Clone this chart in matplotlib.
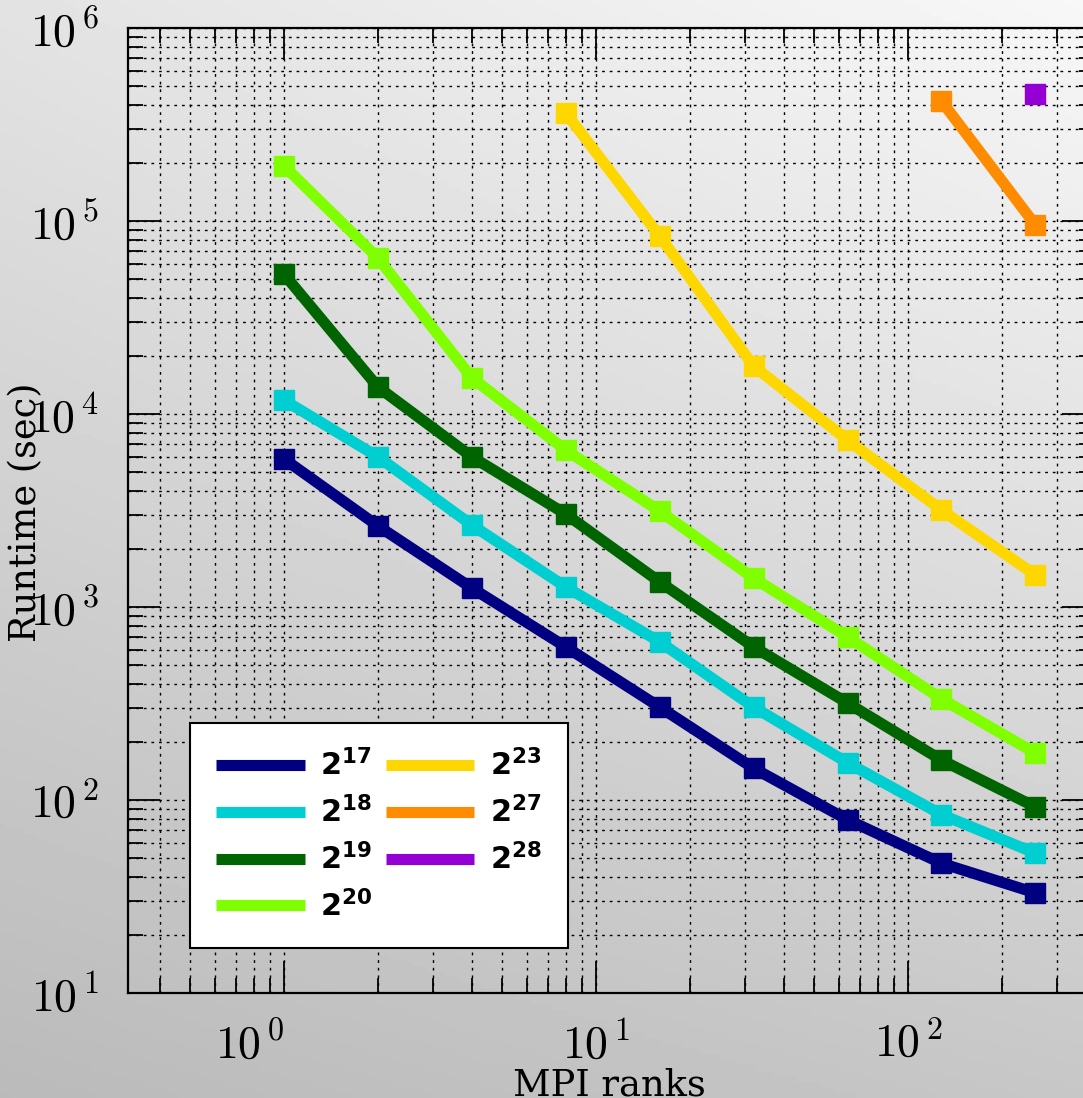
import numpy as np
import matplotlib
matplotlib.use("Agg")
import matplotlib.pyplot as plt
from matplotlib.ticker import FuncFormatter, LogLocator, NullFormatter

plt.rcParams['mathtext.fontset'] = 'custom'
plt.rcParams['mathtext.rm'] = 'cmr10'
plt.rcParams['mathtext.it'] = 'cmmi10'
plt.rcParams['mathtext.bf'] = 'DejaVu Sans:bold'

# MPI ranks and runtimes (sec)
ranks = [1, 2, 4, 8, 16, 32, 64, 128, 256]
t_2_17 = [5850, 2630, 1254, 621, 303, 146, 79, 47, 33]
t_2_18 = [11800, 6000, 2660, 1270, 660, 303, 156, 84, 53]
t_2_19 = [53000, 13800, 6000, 3030, 1350, 621, 318, 161, 92]
t_2_20 = [193000, 64300, 15400, 6500, 3140, 1410, 700, 334, 175]
ranks_2_23 = [8, 16, 32, 64, 128, 256]
t_2_23 = [363000, 83600, 17700, 7330, 3180, 1465]
ranks_2_27 = [128, 256]
t_2_27 = [418000, 95300]
ranks_2_28 = [256]
t_2_28 = [455000]

series = [
    (ranks, t_2_17, '#000080', r'$\mathbf{2^{17}}$'),
    (ranks, t_2_18, '#00CED1', r'$\mathbf{2^{18}}$'),
    (ranks, t_2_19, '#006400', r'$\mathbf{2^{19}}$'),
    (ranks, t_2_20, '#7FFF00', r'$\mathbf{2^{20}}$'),
    (ranks_2_23, t_2_23, '#FFD700', r'$\mathbf{2^{23}}$'),
    (ranks_2_27, t_2_27, '#FF8C00', r'$\mathbf{2^{27}}$'),
    (ranks_2_28, t_2_28, '#9400D3', r'$\mathbf{2^{28}}$'),
]

W, H = 1083, 1098
fig = plt.figure(figsize=(W / 100, H / 100), dpi=100)

# grey gradient background
bg = fig.add_axes([0, 0, 1, 1], zorder=-10)
bg.axis('off')
yy, xx = np.mgrid[0:1:200j, 0:1:200j]
tl, tr, bl, br = 0.89, 0.97, 0.73, 0.78
shade = tl * (1 - xx) * (1 - yy) + tr * xx * (1 - yy) + bl * (1 - xx) * yy + br * xx * yy
bg.imshow(shade, cmap='gray', vmin=0, vmax=1, aspect='auto', extent=[0, 1, 0, 1])

ax = fig.add_axes([128 / W, 105 / H, 966 / W, 965 / H])
ax.set_facecolor('none')
ax.set_xscale('log')
ax.set_yscale('log')
ax.set_xlim(10 ** -0.5, 10 ** 2.596)
ax.set_ylim(10, 1e6)

for x, y, c, lbl in series:
    ax.plot(x, y, '-', lw=8, color=c, label=lbl, solid_capstyle='butt', zorder=3)
    ax.plot(x, y, 's', ms=14, color=c, mec=c, zorder=4)

fmt = FuncFormatter(lambda v, p: f'$10^{{\\,{int(round(np.log10(v)))}}}$')
for axis in (ax.xaxis, ax.yaxis):
    axis.set_major_locator(LogLocator(base=10, numticks=20))
    axis.set_minor_locator(LogLocator(base=10, subs=np.arange(2, 10), numticks=20))
    axis.set_major_formatter(fmt)
    axis.set_minor_formatter(NullFormatter())

ax.tick_params(which='both', direction='in', top=True, right=True, width=1.3, colors='black')
ax.tick_params(which='major', length=23, labelsize=33, pad=21)
ax.tick_params(which='minor', length=11)
ax.grid(True, which='both', color='black', lw=1.0, linestyle=(0, (2, 3.5)), zorder=1)
for s in ax.spines.values():
    s.set_linewidth(1.6)

fig.canvas.draw()
xlabels = ax.get_xticklabels()
for lab, v in zip(xlabels, ax.get_xticks()):
    if np.isclose(v, 1.0):
        lab.set_horizontalalignment('right')

fig.text(26 / W, 1 - 512 / H, 'Runtime (sec)', rotation=90, ha='center', va='center',
         family='DejaVu Serif', fontsize=26.5)
fig.text(609 / W, 3 / H, 'MPI ranks', ha='center', va='baseline',
         family='DejaVu Serif', fontsize=26.5)

leg = ax.legend(ncol=2, loc='upper left', bbox_to_anchor=((190 - 128) / 966, (993 - 723) / 965),
                borderaxespad=0, fontsize=22, handlelength=2.9, handletextpad=0.5,
                columnspacing=0.45, labelspacing=0.47, borderpad=0.85,
                fancybox=False, framealpha=1, edgecolor='black')
leg.get_frame().set_linewidth(1.5)

fig.savefig('out.png', dpi=100)
